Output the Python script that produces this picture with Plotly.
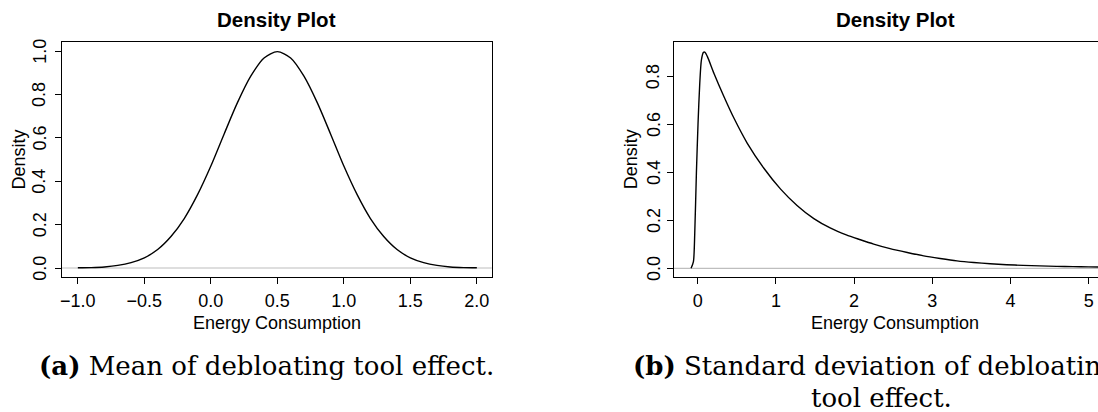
import plotly.graph_objects as go

W, H = 1098, 412

# ---- data: posterior density of the mean effect ----
mean_x = [-1.0, -0.9, -0.8, -0.7, -0.6, -0.5, -0.4, -0.3, -0.2, -0.1, 0.0,
          0.1, 0.2, 0.3, 0.4, 0.5, 0.6, 0.7, 0.8, 0.9, 1.0,
          1.1, 1.2, 1.3, 1.4, 1.5, 1.6, 1.7, 1.8, 1.9, 2.0]
mean_density = [0.001, 0.002, 0.005, 0.012, 0.025, 0.047, 0.085, 0.145, 0.228, 0.338, 0.470,
                 0.618, 0.762, 0.884, 0.968, 0.997, 0.968, 0.884, 0.762, 0.618, 0.470,
                 0.338, 0.228, 0.145, 0.085, 0.047, 0.025, 0.012, 0.005, 0.002, 0.001]

# ---- data: posterior density of the standard deviation ----
sd_x = [-0.085, -0.055, -0.038, -0.017, 0.004, 0.026, 0.047, 0.073, 0.094, 0.124,
        0.208, 0.336, 0.464, 0.634, 0.846, 1.06, 1.27, 1.485, 1.70, 1.90,
        2.08, 2.25, 2.46, 2.68, 2.89, 3.10, 3.315, 3.53, 3.74, 3.95,
        4.16, 4.375, 4.59, 4.80, 5.00, 5.16]
sd_density = [0.0, 0.028, 0.146, 0.396, 0.604, 0.771, 0.868, 0.900, 0.900, 0.882,
              0.812, 0.715, 0.625, 0.521, 0.417, 0.330, 0.262, 0.207, 0.167, 0.139,
              0.119, 0.101, 0.082, 0.066, 0.052, 0.041, 0.031, 0.024, 0.019, 0.015,
              0.0122, 0.0099, 0.0082, 0.0068, 0.0058, 0.0052]

# ---- tick labels ----
mean_xticks = [-1.0, -0.5, 0.0, 0.5, 1.0, 1.5, 2.0]
mean_xlabels = ["\u22121.0", "\u22120.5", "0.0", "0.5", "1.0", "1.5", "2.0"]
mean_yticks = [0.0, 0.2, 0.4, 0.6, 0.8, 1.0]
mean_ylabels = ["0.0", "0.2", "0.4", "0.6", "0.8", "1.0"]
sd_xticks = [0, 1, 2, 3, 4, 5]
sd_xlabels = ["0", "1", "2", "3", "4", "5"]
sd_yticks = [0.0, 0.2, 0.4, 0.6, 0.8]
sd_ylabels = ["0.0", "0.2", "0.4", "0.6", "0.8"]

panel_title = "<b>Density Plot</b>"
x_title = "Energy Consumption"
y_title = "Density"
caption_a = "<b>(a)</b> Mean of debloating tool effect."
caption_b1 = "<b>(b)</b> Standard deviation of debloating"
caption_b2 = "tool effect."

SANS = "Liberation Sans, Arial, Helvetica, sans-serif"
SERIF = "DejaVu Serif, serif"


def fx(p):
    return p / W


def fy(p):
    return 1 - p / H


fig = go.Figure()
fig.add_trace(go.Scatter(x=mean_x, y=mean_density, mode="lines",
                         line=dict(color="black", width=1.4, shape="spline", smoothing=0.8),
                         xaxis="x", yaxis="y", showlegend=False, hoverinfo="skip"))
fig.add_trace(go.Scatter(x=sd_x, y=sd_density, mode="lines",
                         line=dict(color="black", width=1.4, shape="spline", smoothing=0.7),
                         xaxis="x2", yaxis="y2", showlegend=False, hoverinfo="skip"))

top, bottom = 42, 276.7
ydom = [fy(bottom), fy(top)]
tickfont = dict(family=SANS, size=18, color="black")

common_x = dict(showgrid=False, zeroline=False, showline=True, linecolor="black", linewidth=1,
                ticks="outside", ticklen=6, tickcolor="black", tickwidth=1,
                tickfont=tickfont, ticklabelstandoff=2)
common_y = dict(showgrid=False, zeroline=False, showline=True, linecolor="black", linewidth=1,
                ticks="outside", ticklen=6, tickcolor="black", tickwidth=1,
                showticklabels=False)

mean_yrange = [-0.040, 1.0415]
sd_yrange = [-0.035, 0.943]

fig.update_layout(
    width=W, height=H,
    margin=dict(l=0, r=0, t=0, b=0),
    paper_bgcolor="white", plot_bgcolor="white",
    xaxis=dict(domain=[fx(60), fx(490.7)], range=[-1.12, 2.1125], mirror=True,
               tickvals=mean_xticks, ticktext=mean_xlabels, anchor="y", **common_x),
    yaxis=dict(domain=ydom, range=mean_yrange, mirror=True,
               tickvals=mean_yticks, anchor="x", **common_y),
    xaxis2=dict(domain=[fx(673.3), 1.0], range=[-0.3025, 5.119], mirror=True,
                tickvals=sd_xticks, ticktext=sd_xlabels, anchor="y2", **common_x),
    yaxis2=dict(domain=ydom, range=sd_yrange, mirror=False,
                tickvals=sd_yticks, anchor="x2", **common_y),
)

# gray zero reference lines
for xr, yr in (("x domain", "y"), ("x2 domain", "y2")):
    fig.add_shape(type="line", xref=xr, yref=yr, x0=0, x1=1, y0=0, y1=0,
                  line=dict(color="#BEBEBE", width=1.2), layer="below")

ann = []
# rotated y tick labels, placed on the y axes' own scales
for yref, ticks, labels, lx in (("y", mean_yticks, mean_ylabels, 37.7),
                                ("y2", sd_yticks, sd_ylabels, 653)):
    for v, t in zip(ticks, labels):
        ann.append(dict(text=t, x=fx(lx), y=v, xref="paper", yref=yref,
                        showarrow=False, xanchor="center", yanchor="middle", textangle=-90,
                        font=tickfont))

for cx, ycx in ((275.3, 17), (895, 630)):
    ann.append(dict(text=panel_title, x=fx(cx), y=fy(19.5), xref="paper", yref="paper",
                    showarrow=False, xanchor="center", yanchor="middle",
                    font=dict(family=SANS, size=20.5, color="black")))
    ann.append(dict(text=x_title, x=fx(cx), y=fy(322.5), xref="paper", yref="paper",
                    showarrow=False, xanchor="center", yanchor="middle",
                    font=dict(family=SANS, size=18, color="black")))
    ann.append(dict(text=y_title, x=fx(ycx), y=fy(159.5), xref="paper", yref="paper",
                    showarrow=False, xanchor="center", yanchor="middle", textangle=-90,
                    font=dict(family=SANS, size=18, color="black")))

capfont = dict(family=SERIF, size=26, color="black")
ann.append(dict(text=caption_a, x=fx(265), y=fy(366), xref="paper", yref="paper",
                showarrow=False, xanchor="center", yanchor="middle", font=capfont))
ann.append(dict(text=caption_b1, x=fx(630), y=fy(366), xref="paper", yref="paper",
                showarrow=False, xanchor="left", yanchor="middle", font=capfont))
ann.append(dict(text=caption_b2, x=fx(881), y=fy(398), xref="paper", yref="paper",
                showarrow=False, xanchor="center", yanchor="middle", font=capfont))
fig.update_layout(annotations=ann)

fig.write_html("out.html")
